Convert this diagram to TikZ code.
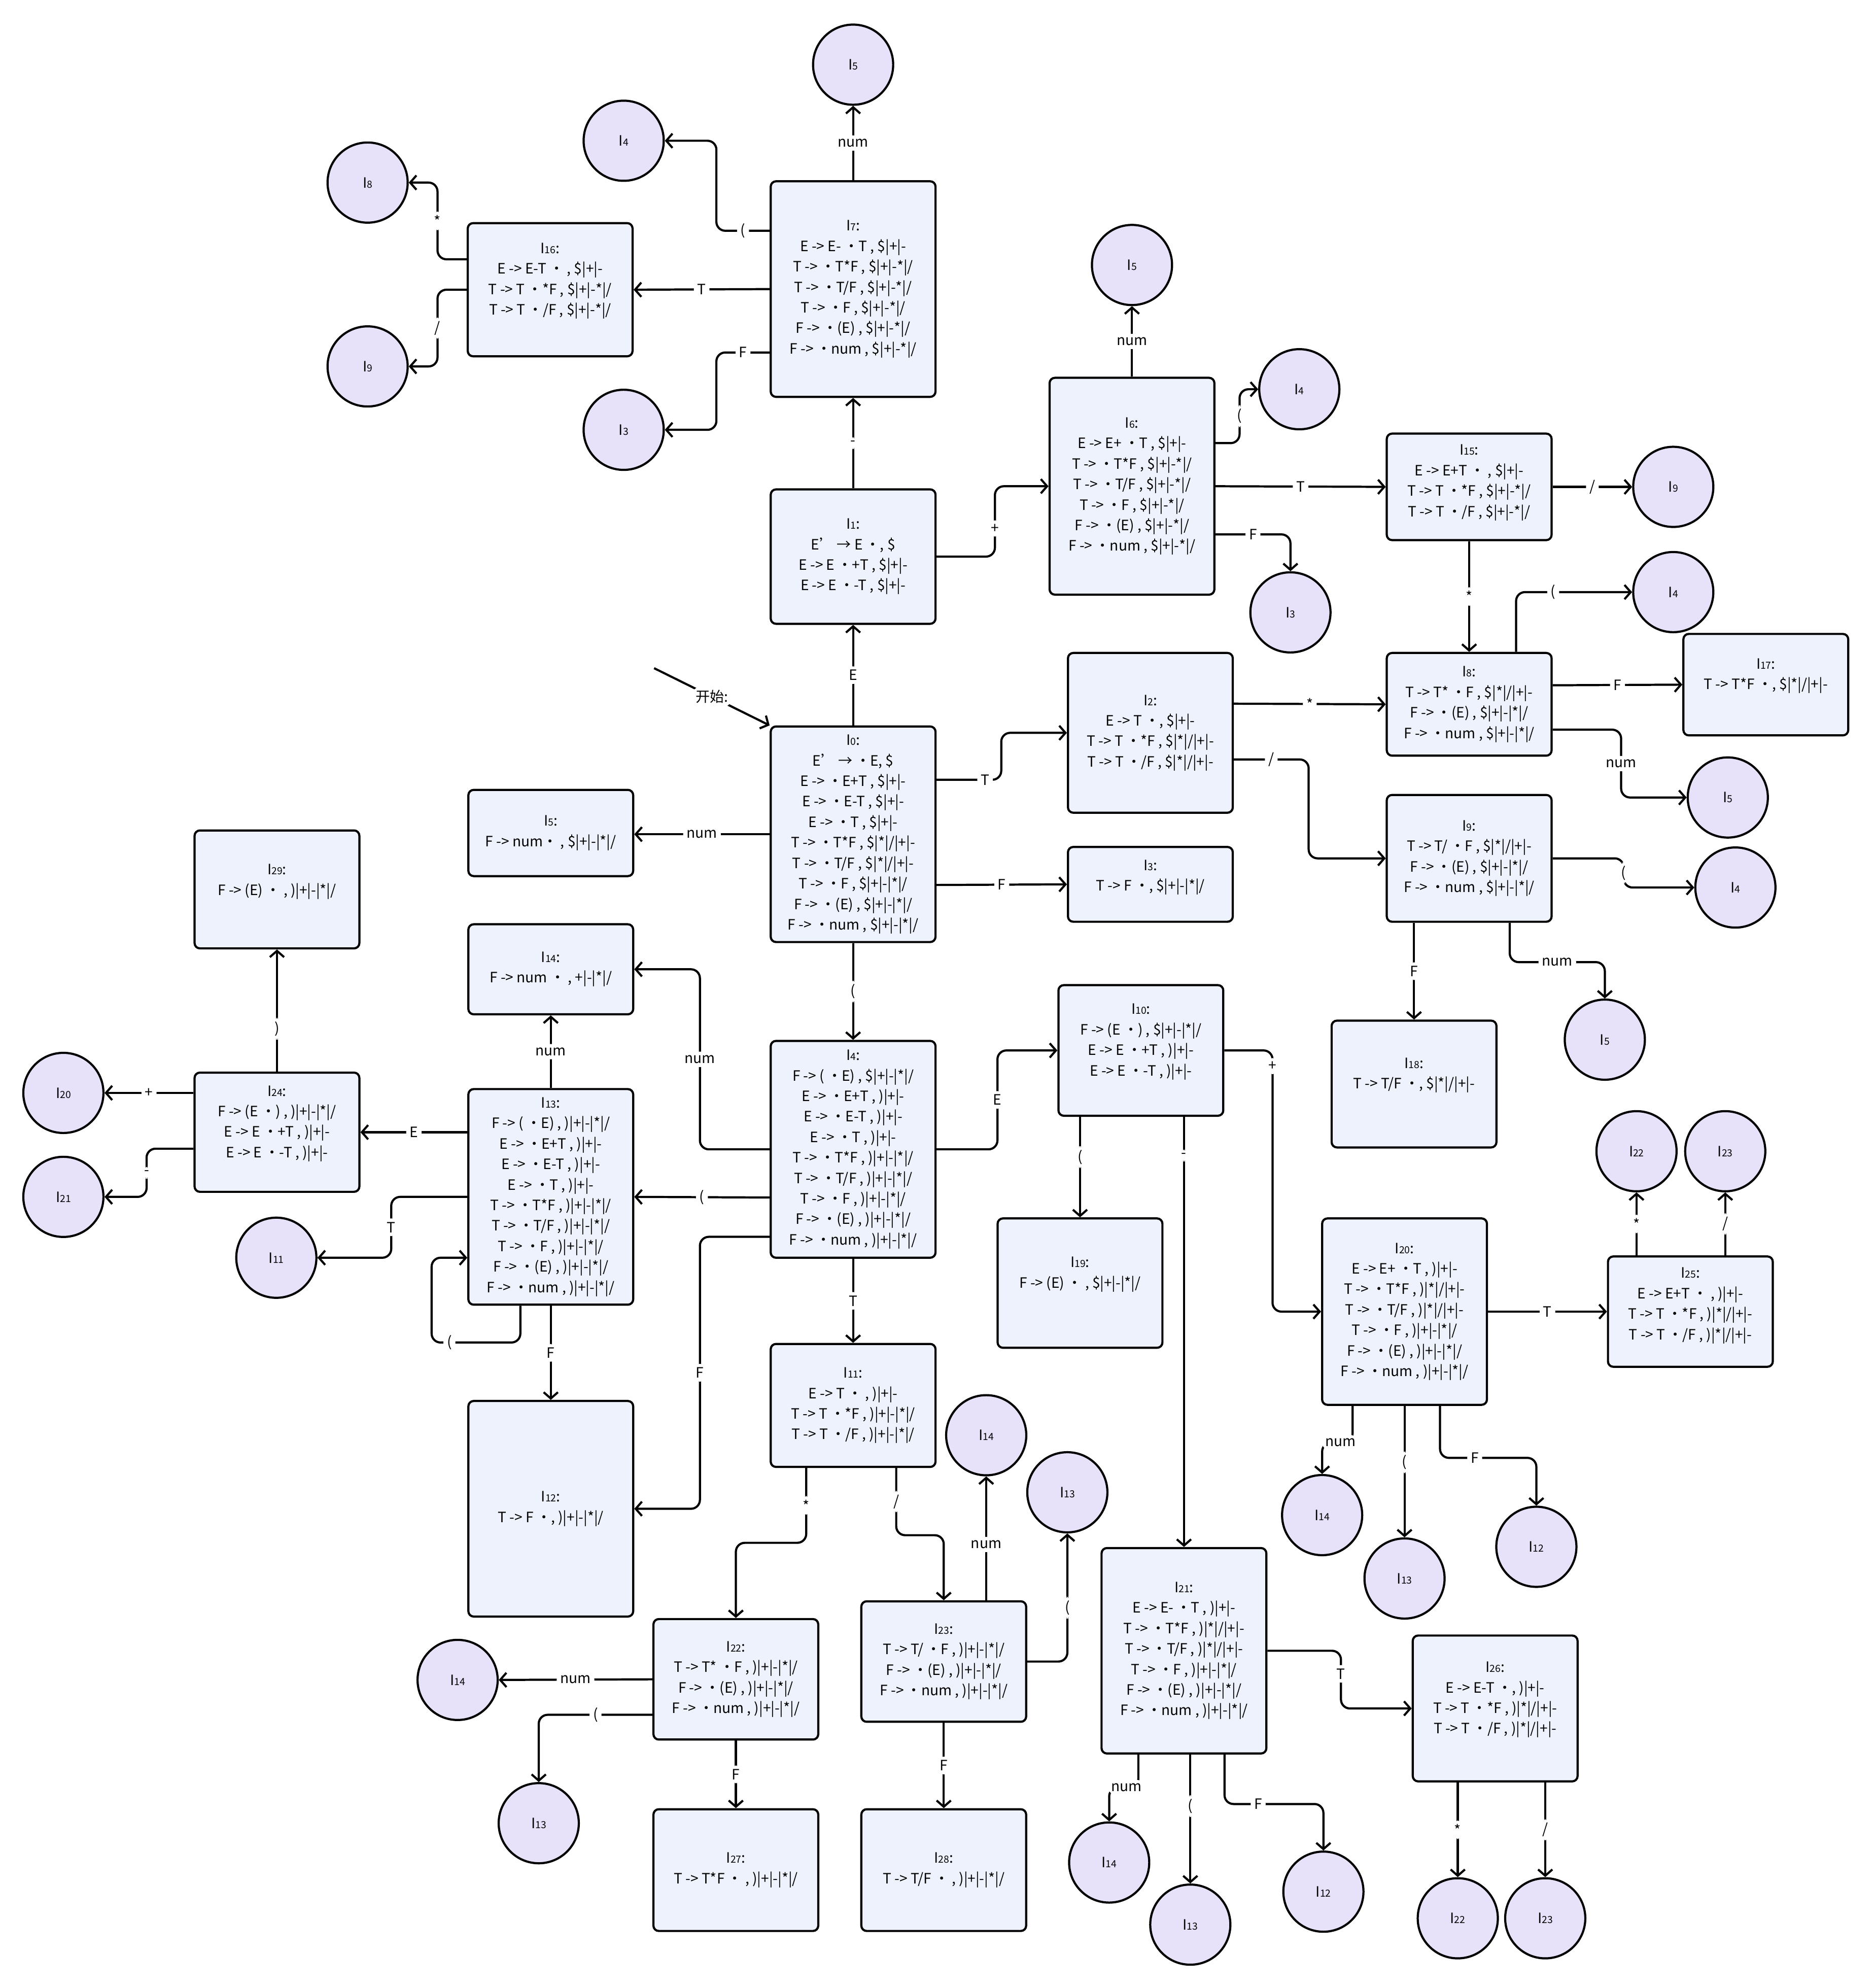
\documentclass[tikz,border=0pt]{standalone}
\usepackage{fontspec}
\setmainfont{Noto Sans CJK SC}
\usetikzlibrary{arrows.meta,calc}

\definecolor{boxfill}{RGB}{238,242,252}
\definecolor{gotofill}{RGB}{232,225,250}

\tikzset{
state/.style={draw, line width=1.2pt, rounded corners=3pt, fill=boxfill, minimum width=3.25cm, align=center, inner sep=2pt, font=\fontsize{8}{11.5}\selectfont},
raised/.style={text depth=#1},
goto/.style={draw, circle, line width=1.2pt, fill=gotofill, minimum size=1.58cm, inner sep=0pt, font=\fontsize{8}{10}\selectfont},
trans/.style={line width=1.2pt, rounded corners=5pt, -{Straight Barb[length=3.5pt,width=8pt]}},
lbl/.style={fill=white, inner sep=2pt, font=\fontsize{8}{10}\selectfont}
}

\newcommand{\sname}[1]{I{\fontsize{5.5}{6}\selectfont #1}}

\begin{document}
\begin{tikzpicture}[x=0.025cm,y=-0.025cm]
\useasboundingbox (0,0) rectangle (1478,1568);

% item sets
\node[state, minimum height=4.25cm] (I0) at (673,658) {\sname{0}:\\E' → ・E, \$\\E -> ・E+T , \$|+|-\\E -> ・E-T , \$|+|-\\E -> ・T , \$|+|-\\T -> ・T*F , \$|*|/|+|-\\T -> ・T/F , \$|*|/|+|-\\T -> ・F , \$|+|-|*|/\\F -> ・(E) , \$|+|-|*|/\\F -> ・num , \$|+|-|*|/};
\node[state, minimum height=2.65cm] (I1) at (673,439) {\sname{1}:\\E' → E ・, \$\\E -> E ・+T , \$|+|-\\E -> E ・-T , \$|+|-};
\node[state, minimum height=3.15cm] (I2) at (907.5,578) {\sname{2}:\\E -> T ・, \$|+|-\\T -> T ・*F , \$|*|/|+|-\\T -> T ・/F , \$|*|/|+|-};
\node[state, raised=10pt, minimum height=1.475cm] (I3b) at (907.5,697.5) {\sname{3}:\\T -> F ・, \$|+|-|*|/};
\node[state, minimum height=1.7cm] (I5b) at (434.5,657) {\sname{5}:\\F -> num・ , \$|+|-|*|/};
\node[state, minimum height=4.275cm] (I6) at (893,383.5) {\sname{6}:\\E -> E+ ・T , \$|+|-\\T -> ・T*F , \$|+|-*|/\\T -> ・T/F , \$|+|-*|/\\T -> ・F , \$|+|-*|/\\F -> ・(E) , \$|+|-*|/\\F -> ・num , \$|+|-*|/};
\node[state, minimum height=4.25cm] (I7) at (673,228) {\sname{7}:\\E -> E- ・T , \$|+|-\\T -> ・T*F , \$|+|-*|/\\T -> ・T/F , \$|+|-*|/\\T -> ・F , \$|+|-*|/\\F -> ・(E) , \$|+|-*|/\\F -> ・num , \$|+|-*|/};
\node[state, raised=12pt, minimum height=2.625cm] (I16) at (434,228.5) {\sname{16}:\\E -> E-T ・ , \$|+|-\\T -> T ・*F , \$|+|-*|/\\T -> T ・/F , \$|+|-*|/};
\node[state, raised=7pt, minimum height=2.1cm] (I15) at (1159,384) {\sname{15}:\\E -> E+T ・ , \$|+|-\\T -> T ・*F , \$|+|-*|/\\T -> T ・/F , \$|+|-*|/};
\node[state, minimum height=2.025cm] (I8) at (1159,555.5) {\sname{8}:\\T -> T* ・F , \$|*|/|+|-\\F -> ・(E) , \$|+|-|*|/\\F -> ・num , \$|+|-|*|/};
\node[state, raised=12pt, minimum height=2cm] (I17) at (1393,540) {\sname{17}:\\T -> T*F ・, \$|*|/|+|-};
\node[state, minimum height=2.5cm] (I9) at (1159,677) {\sname{9}:\\T -> T/ ・F , \$|*|/|+|-\\F -> ・(E) , \$|+|-|*|/\\F -> ・num , \$|+|-|*|/};
\node[state, raised=12pt, minimum height=2.5cm] (I18) at (1115.5,855) {\sname{18}:\\T -> T/F ・, \$|*|/|+|-};
\node[state, raised=11pt, minimum height=2.325cm] (I29) at (218.5,701.5) {\sname{29}:\\F -> (E) ・ , )|+|-|*|/};
\node[state, minimum height=1.775cm] (I14b) at (434.5,764.5) {\sname{14}:\\F -> num ・ , +|-|*|/};
\node[state, raised=12pt, minimum height=2.35cm] (I24) at (218.5,893) {\sname{24}:\\F -> (E ・) , )|+|-|*|/\\E -> E ・+T , )|+|-\\E -> E ・-T , )|+|-};
\node[state, minimum height=4.25cm] (I13) at (434.5,944) {\sname{13}:\\F -> ( ・E) , )|+|-|*|/\\E -> ・E+T , )|+|-\\E -> ・E-T , )|+|-\\E -> ・T , )|+|-\\T -> ・T*F , )|+|-|*|/\\T -> ・T/F , )|+|-|*|/\\T -> ・F , )|+|-|*|/\\F -> ・(E) , )|+|-|*|/\\F -> ・num , )|+|-|*|/};
\node[state, minimum height=4.275cm] (I4) at (673,906.5) {\sname{4}:\\F -> ( ・E) , \$|+|-|*|/\\E -> ・E+T , )|+|-\\E -> ・E-T , )|+|-\\E -> ・T , )|+|-\\T -> ・T*F , )|+|-|*|/\\T -> ・T/F , )|+|-|*|/\\T -> ・F , )|+|-|*|/\\F -> ・(E) , )|+|-|*|/\\F -> ・num , )|+|-|*|/};
\node[state, raised=12pt, minimum height=2.575cm] (I10) at (900,828.5) {\sname{10}:\\F -> (E ・) , \$|+|-|*|/\\E -> E ・+T , )|+|-\\E -> E ・-T , )|+|-};
\node[state, raised=12pt, minimum height=2.55cm] (I19) at (852,1012) {\sname{19}:\\F -> (E) ・ , \$|+|-|*|/};
\node[state, minimum height=3.675cm] (I20) at (1108,1034.5) {\sname{20}:\\E -> E+ ・T , )|+|-\\T -> ・T*F , )|*|/|+|-\\T -> ・T/F , )|*|/|+|-\\T -> ・F , )|+|-|*|/\\F -> ・(E) , )|+|-|*|/\\F -> ・num , )|+|-|*|/};
\node[state, raised=9pt, minimum height=2.175cm] (I25) at (1333.5,1034.5) {\sname{25}:\\E -> E+T ・ , )|+|-\\T -> T ・*F , )|*|/|+|-\\T -> T ・/F , )|*|/|+|-};
\node[state, minimum height=2.425cm] (I11) at (673,1108.5) {\sname{11}:\\E -> T ・ , )|+|-\\T -> T ・*F , )|+|-|*|/\\T -> T ・/F , )|+|-|*|/};
\node[state, minimum height=4.25cm] (I12) at (434.5,1190) {\sname{12}:\\T -> F ・, )|+|-|*|/};
\node[state, minimum height=2.375cm] (I22b) at (580.5,1324.5) {\sname{22}:\\T -> T* ・F , )|+|-|*|/\\F -> ・(E) , )|+|-|*|/\\F -> ・num , )|+|-|*|/};
\node[state, minimum height=2.375cm] (I23b) at (744.5,1310.5) {\sname{23}:\\T -> T/ ・F , )|+|-|*|/\\F -> ・(E) , )|+|-|*|/\\F -> ・num , )|+|-|*|/};
\node[state, minimum height=2.4cm] (I27) at (580.5,1475) {\sname{27}:\\T -> T*F ・ , )|+|-|*|/};
\node[state, minimum height=2.4cm] (I28) at (744.5,1475) {\sname{28}:\\T -> T/F ・ , )|+|-|*|/};
\node[state, minimum height=4.05cm] (I21) at (934,1302) {\sname{21}:\\E -> E- ・T , )|+|-\\T -> ・T*F , )|*|/|+|-\\T -> ・T/F , )|*|/|+|-\\T -> ・F , )|+|-|*|/\\F -> ・(E) , )|+|-|*|/\\F -> ・num , )|+|-|*|/};
\node[state, raised=12pt, minimum height=2.875cm] (I26) at (1179.5,1347.5) {\sname{26}:\\E -> E-T ・, )|+|-\\T -> T ・*F , )|*|/|+|-\\T -> T ・/F , )|*|/|+|-};

% goto circles
\node[goto] (c5a) at (673,51) {\sname{5}};
\node[goto] (c4a) at (492,111) {\sname{4}};
\node[goto] (c8) at (290,144) {\sname{8}};
\node[goto] (c9a) at (290,289) {\sname{9}};
\node[goto] (c3a) at (492,339) {\sname{3}};
\node[goto] (c5b) at (893,209) {\sname{5}};
\node[goto] (c4b) at (1025,307) {\sname{4}};
\node[goto] (c3b) at (1018,483) {\sname{3}};
\node[goto] (c9b) at (1320,384) {\sname{9}};
\node[goto] (c4c) at (1320,467) {\sname{4}};
\node[goto] (c5c) at (1363,629) {\sname{5}};
\node[goto] (c4d) at (1369,700) {\sname{4}};
\node[goto] (c5d) at (1266,820) {\sname{5}};
\node[goto] (c22a) at (1291,908) {\sname{22}};
\node[goto] (c23a) at (1361,908) {\sname{23}};
\node[goto] (c20) at (50,862) {\sname{20}};
\node[goto] (c21) at (50,944) {\sname{21}};
\node[goto] (c11) at (218,992) {\sname{11}};
\node[goto] (c14a) at (778,1132) {\sname{14}};
\node[goto] (c13a) at (842,1177) {\sname{13}};
\node[goto] (c14b) at (1043,1195) {\sname{14}};
\node[goto] (c13b) at (1108,1245) {\sname{13}};
\node[goto] (c12a) at (1212,1220) {\sname{12}};
\node[goto] (c14c) at (361,1325) {\sname{14}};
\node[goto] (c13c) at (425,1438) {\sname{13}};
\node[goto] (c14d) at (875,1469) {\sname{14}};
\node[goto] (c13d) at (939,1518) {\sname{13}};
\node[goto] (c12b) at (1044,1492) {\sname{12}};
\node[goto] (c22b) at (1150,1513) {\sname{22}};
\node[goto] (c23b) at (1219,1513) {\sname{23}};

\coordinate (st) at (516,527);

% transitions
\draw[trans] (st) -- node[lbl]{开始:} (I0.north west);
\draw[trans] (I0.north) -- node[lbl]{E} (I1.south);
\draw[trans] ($(I0.east)+(0,-43)$) -- node[lbl,pos=0.75]{T} ++(51,0) |- (I2.west);
\draw[trans] (I0.west) -- node[lbl]{num} (I0.west -| I5b.east);
\draw[trans] ($(I0.east)+(0,40)$) -- node[lbl]{F} (I3b.west);
\draw[trans] (I0.south) -- node[lbl]{(} (I4.north);

\draw[trans] (I1.north) -- node[lbl]{-} (I7.south);
\draw[trans] (I1.east) -- ++(46,0) |- node[lbl,pos=0.2]{+} (I6.west);

\draw[trans] (I7.north) -- node[lbl]{num} (c5a.south);
\draw[trans] ($(I7.west)+(0,-46)$) -- node[lbl]{(} ++(-42,0) |- (c4a.east);
\draw[trans] (I7.west) -- node[lbl]{T} (I16.east);
\draw[trans] ($(I7.west)+(0,50)$) -- node[lbl]{F} ++(-42,0) |- (c3a.east);

\draw[trans] ($(I16.west)+(0,-24)$) -- ++(-23,0) |- node[lbl,pos=0.25]{*} (c8.east);
\draw[trans] (I16.west) -- ++(-23,0) |- node[lbl,pos=0.25]{/} (c9a.east);

\draw[trans] (I6.north) -- node[lbl]{num} (c5b.south);
\draw[trans] ($(I6.east)+(0,-34)$) -- ++(19,0) |- node[lbl,pos=0.25]{(} (c4b.west);
\draw[trans] (I6.east) -- node[lbl]{T} (I15.west);
\draw[trans] ($(I6.east)+(0,38)$) -| node[lbl,pos=0.25]{F} (c3b.north);

\draw[trans] (I15.east) -- node[lbl]{/} (c9b.west);
\draw[trans] (I15.south) -- node[lbl]{*} (I8.north);

\draw[trans] ($(I2.east)+(0,-23)$) -- node[lbl]{*} (I8.west);
\draw[trans] ($(I2.east)+(0,21)$) -- node[lbl]{/} ++(59,0) |- (I9.west);

\draw[trans] ($(I8.north)+(37,0)$) |- node[lbl,pos=0.66]{(} (c4c.west);
\draw[trans] ($(I8.east)+(0,-15)$) -- node[lbl]{F} (I17.west);
\draw[trans] ($(I8.east)+(0,20)$) -- ++(54,0) |- node[lbl,pos=0.25]{num} (c5c.west);

\draw[trans] (I9.east) -- ++(56,0) |- node[lbl,pos=0.25]{(} (c4d.west);
\draw[trans] (I18.north |- I9.south) -- node[lbl]{F} (I18.north);
\draw[trans] ($(I9.south)+(32,0)$) -- ++(0,31) -| node[lbl,pos=0.25]{num} (c5d.north);

\draw[trans] (I4.west) -- ++(-55,0) |- node[lbl,pos=0.25]{num} (I14b.east);
\draw[trans] ($(I4.west)+(0,38)$) -- node[lbl]{(} (I13.east);
\draw[trans] ($(I4.west)+(0,69)$) -- ++(-55,0) |- node[lbl,pos=0.25]{F} (I12.east);
\draw[trans] (I4.east) -- ++(48,0) |- node[lbl,pos=0.25]{E} (I10.west);
\draw[trans] (I4.south) -- node[lbl]{T} (I11.north);

\draw[trans] (I13.north) -- node[lbl]{num} (I14b.south);
\draw[trans] ($(I13.west)+(0,-51)$) -- node[lbl]{E} (I24.east);
\draw[trans] (I13.west) -- ++(-60,0) |- node[lbl,pos=0.25]{T} (c11.east);
\draw[trans] ($(I13.south)+(-24,0)$) -- ++(0,29) -- node[lbl,pos=0.8]{(} ++(-70,0) |- ($(I13.west)+(0,48)$);
\draw[trans] (I13.south) -- node[lbl]{F} (I12.north);

\draw[trans] (I24.north) -- node[lbl,pos=0.35]{)} (I29.south);
\draw[trans] ($(I24.west)+(0,-31)$) -- node[lbl]{+} (c20.east);
\draw[trans] ($(I24.west)+(0,13)$) -- ++(-37,0) |- node[lbl,pos=0.25]{-} (c21.east);

\draw[trans] (I19.north |- I10.south) -- node[lbl,pos=0.4]{(} (I19.north);
\draw[trans] (I21.north |- I10.south) -- node[lbl,pos=0.09]{-} (I21.north);
\draw[trans] (I10.east) -- ++(38,0) |- node[lbl,pos=0.03]{+} (I20.west);

\draw[trans] (I20.east) -- node[lbl]{T} (I25.west);
\draw[trans] ($(I20.south)+(-41,0)$) -- ++(0,29) -| node[lbl,pos=0.2]{num} (c14b.north);
\draw[trans] (c13b.north |- I20.south) -- node[lbl,pos=0.43]{(} (c13b.north);
\draw[trans] ($(I20.south)+(28,0)$) -- ++(0,41) -| node[lbl,pos=0.18]{F} (c12a.north);

\draw[trans] (c22a.south |- I25.north) -- node[lbl]{*} (c22a.south);
\draw[trans] (c23a.south |- I25.north) -- node[lbl]{/} (c23a.south);

\draw[trans] ($(I11.south)+(-37,0)$) -- node[lbl]{*} ++(0,59) -| (I22b.north);
\draw[trans] ($(I11.south)+(34,0)$) -- node[lbl]{/} ++(0,53) -| (I23b.north);

\draw[trans] (I22b.west) -- node[lbl]{num} (c14c.east);
\draw[trans] ($(I22b.west)+(0,28)$) -| node[lbl,pos=0.25]{(} (c13c.north);
\draw[trans] (I22b.south) -- node[lbl]{F} (I27.north);

\draw[trans] (c14a.south |- I23b.north) -- node[lbl,pos=0.45]{num} (c14a.south);
\draw[trans] (I23b.east) -| node[lbl,pos=0.71]{(} (c13a.south);
\draw[trans] (I23b.south) -- node[lbl]{F} (I28.north);

\draw[trans] ($(I21.south)+(-36,0)$) -- ++(0,26) -| node[lbl,pos=0.2]{num} (c14d.north);
\draw[trans] (c13d.north |- I21.south) -- node[lbl,pos=0.4]{(} (c13d.north);
\draw[trans] ($(I21.south)+(32,0)$) -- ++(0,39) -| node[lbl,pos=0.17]{F} (c12b.north);
\draw[trans] (I21.east) -- ++(58,0) |- node[lbl,pos=0.2]{T} (I26.west);

\draw[trans] (c22b.north |- I26.south) -- node[lbl]{*} (c22b.north);
\draw[trans] (c23b.north |- I26.south) -- node[lbl]{/} (c23b.north);

\end{tikzpicture}
\end{document}
